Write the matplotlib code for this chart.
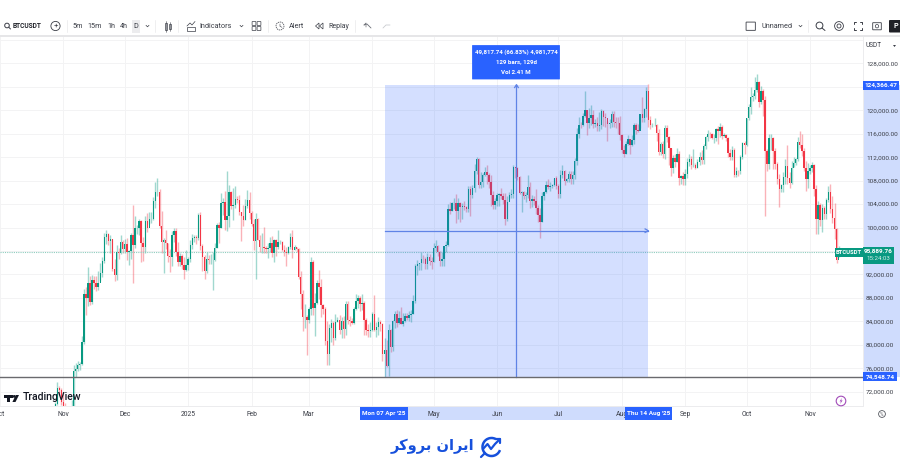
import pandas as pd
import numpy as np
import matplotlib
matplotlib.use("Agg")
import matplotlib.pyplot as plt
import matplotlib.dates as mdates
from matplotlib.patches import Rectangle, Circle, FancyBboxPatch, Arc, Polygon
from matplotlib.transforms import blended_transform_factory

plt.rcParams['font.family'] = ['Roboto', 'DejaVu Sans']

# daily candles in thousands of USDT, first bar is 28 Oct 2024
first_day = "2024-10-28"
first_open = 69.0
closes = [
    69.9, 72.7, 72.3, 70.3,
    69.5, 69.4, 68.8, 67.8, 69.4, 75.6, 75.9, 76.5, 76.7, 80.4, 88.6, 87.9, 90.5, 87.3, 91.0, 90.6, 89.8, 90.5, 92.3, 94.3, 98.4, 98.9, 97.7, 98.0, 93.0, 91.9, 95.9, 95.6, 97.5, 96.4,
    97.2, 95.9, 96.0, 98.8, 97.0, 99.9, 99.9, 101.1, 97.4, 96.6, 101.1, 100.0, 101.4, 101.4, 104.5, 106.1, 106.1, 100.2, 97.5, 97.8, 97.3, 95.2, 94.9, 98.7, 99.4, 95.8, 94.2, 95.2, 93.6, 92.8, 93.6,
    94.6, 97.0, 98.2, 98.3, 98.2, 102.1, 96.9, 95.0, 92.5, 94.7, 94.5, 94.5, 94.5, 96.5, 100.5, 99.9, 104.1, 104.4, 101.2, 102.0, 106.1, 103.6, 103.9, 104.8, 104.7, 102.6, 102.0, 101.3, 103.7, 104.7, 102.4,
    100.6, 97.7, 101.4, 97.9, 96.6, 96.6, 96.5, 96.4, 96.5, 97.4, 95.7, 97.8, 96.6, 97.5, 97.6, 96.1, 95.8, 95.6, 96.6, 98.3, 96.1, 96.6, 96.3, 91.5, 88.7, 84.7, 84.7, 84.3,
    86.1, 94.2, 86.2, 87.2, 90.6, 89.9, 86.7, 86.1, 80.7, 78.5, 82.9, 83.7, 81.1, 83.9, 84.3, 82.6, 84.0, 82.7, 86.9, 84.2, 84.1, 83.8, 86.1, 87.5, 88.0, 86.9, 87.2, 84.3, 82.6, 82.4, 82.5,
    85.2, 82.5, 83.1, 83.9, 83.5, 78.4, 79.1, 76.3, 82.6, 79.6, 84.0, 85.3, 83.7, 84.5, 83.6, 84.0, 84.9, 84.5, 85.1, 85.2, 87.5, 93.4, 93.7, 93.9, 94.7, 94.6, 93.8, 94.9, 94.3, 94.2,
    96.5, 96.9, 95.9, 94.3, 94.7, 96.8, 97.0, 103.2, 102.9, 104.1, 104.1, 102.8, 104.2, 103.5, 103.7, 103.5, 103.1, 106.5, 105.6, 106.8, 109.7, 111.7, 107.3, 107.8, 109.0, 109.4, 108.9, 107.8, 105.6, 103.9, 104.6,
    105.6, 105.8, 105.4, 104.7, 101.5, 104.3, 105.6, 105.7, 110.3, 110.2, 108.6, 105.9, 106.1, 105.4, 105.5, 106.9, 104.5, 104.9, 104.6, 103.3, 102.1, 101.0, 105.4, 106.0, 107.3, 106.9, 107.0, 107.3, 108.4, 107.1,
    105.7, 108.9, 109.6, 108.0, 108.2, 109.2, 108.3, 108.9, 111.3, 116.0, 117.5, 117.4, 119.1, 120.0, 117.8, 118.6, 119.2, 117.6, 117.9, 117.3, 117.4, 119.9, 118.8, 118.6, 117.6, 117.9, 119.4, 118.0, 117.9, 117.8, 115.7,
    113.3, 112.5, 114.2, 115.1, 114.1, 115.0, 117.5, 116.7, 116.5, 119.3, 118.7, 120.2, 123.3, 118.3, 117.4, 117.5, 117.5, 116.2, 112.9, 114.3, 112.5, 116.9, 115.4, 113.5, 110.1, 111.8, 111.2, 112.6, 108.4, 108.8, 108.2,
    109.2, 111.2, 111.7, 110.7, 110.7, 110.2, 111.1, 112.1, 111.5, 113.9, 115.5, 116.0, 115.9, 115.3, 115.3, 116.8, 116.5, 117.1, 115.6, 115.7, 115.3, 112.7, 112.0, 113.3, 109.0, 109.7, 109.6, 112.1, 114.4, 114.0,
    118.6, 120.6, 122.3, 122.4, 123.5, 124.8, 121.4, 123.3, 121.7, 113.0, 110.8, 115.2, 115.3, 113.0, 110.8, 108.2, 106.5, 107.2, 108.6, 110.5, 108.4, 107.6, 110.1, 111.0, 111.6, 114.6, 114.1, 113.0, 110.1, 108.3, 109.6,
    110.1, 110.6, 106.6, 101.5, 103.9, 101.3, 103.3, 102.3, 104.7, 106.0, 103.1, 101.7, 99.7, 94.5, 95.9,
]
highs = [
    70.3, 73.6, 72.9, 72.7,
    71.6, 70.0, 69.5, 69.5, 70.6, 76.5, 76.9, 77.2, 77.0, 81.5, 89.5, 89.9, 93.3, 91.8, 91.9, 91.8, 91.7, 92.6, 94.0, 94.9, 99.0, 99.6, 99.0, 98.8, 98.0, 94.7, 97.0, 96.5, 98.7, 97.8,
    98.0, 98.2, 96.2, 99.0, 103.9, 102.0, 100.5, 101.4, 101.2, 98.3, 101.9, 102.5, 102.7, 102.6, 105.2, 107.8, 108.4, 106.5, 102.8, 98.2, 99.5, 97.4, 96.4, 99.4, 99.9, 99.9, 97.5, 95.7, 95.4, 94.9, 96.1,
    94.9, 97.8, 98.9, 98.7, 98.8, 102.5, 102.7, 97.2, 95.3, 95.8, 95.3, 95.4, 95.9, 97.3, 100.7, 100.9, 105.9, 105.0, 106.3, 109.6, 107.2, 106.3, 106.8, 107.0, 105.3, 105.5, 102.7, 103.8, 104.8, 106.4, 106.0,
    102.8, 101.4, 102.5, 101.7, 98.8, 99.0, 100.1, 96.9, 97.3, 98.3, 98.5, 98.1, 98.1, 99.5, 97.9, 97.7, 97.0, 96.7, 96.9, 99.0, 99.5, 97.0, 96.7, 96.5, 92.5, 89.3, 87.0, 85.1,
    86.5, 95.0, 94.4, 88.9, 91.0, 92.8, 91.3, 86.9, 86.5, 84.0, 83.6, 84.4, 84.0, 85.3, 84.7, 85.0, 84.7, 84.9, 87.4, 87.4, 84.9, 84.5, 86.4, 88.7, 88.5, 88.3, 88.7, 87.5, 84.6, 83.5, 83.9,
    85.6, 88.5, 83.9, 84.7, 84.2, 83.8, 81.1, 80.9, 83.5, 82.7, 84.2, 85.8, 86.0, 85.7, 86.5, 85.4, 85.5, 85.5, 85.7, 86.0, 88.5, 93.8, 94.5, 94.0, 95.8, 95.3, 95.0, 95.6, 95.4, 95.0,
    97.4, 97.9, 97.0, 96.0, 95.9, 96.9, 97.7, 104.0, 104.4, 104.4, 105.0, 105.8, 105.0, 104.4, 104.2, 104.5, 103.7, 107.1, 107.0, 107.2, 110.8, 112.0, 111.9, 109.5, 109.3, 110.4, 110.7, 109.3, 108.9, 106.3, 105.0,
    105.9, 105.9, 106.8, 105.9, 105.9, 105.4, 106.0, 106.5, 110.6, 110.4, 110.4, 108.8, 106.2, 106.2, 106.1, 108.9, 107.8, 105.6, 105.4, 106.5, 103.9, 103.4, 106.0, 106.3, 108.0, 108.3, 107.8, 107.5, 108.5, 108.8,
    107.5, 109.8, 110.6, 109.8, 108.4, 109.7, 109.7, 109.7, 111.9, 116.9, 118.9, 118.0, 119.5, 123.2, 119.9, 120.4, 120.9, 120.0, 118.5, 118.9, 119.7, 120.2, 120.1, 119.5, 118.1, 118.5, 119.8, 119.9, 118.8, 118.8, 119.0,
    116.0, 114.0, 114.8, 115.7, 115.1, 115.7, 117.9, 117.9, 117.7, 119.3, 122.3, 120.3, 124.0, 124.4, 119.0, 117.9, 118.6, 117.6, 116.8, 114.6, 114.8, 117.4, 117.4, 115.6, 113.6, 112.3, 112.6, 113.5, 113.0, 108.9, 109.5,
    109.9, 111.8, 112.6, 112.2, 113.4, 111.0, 111.7, 112.9, 113.2, 114.3, 115.6, 116.7, 116.3, 116.1, 116.0, 117.0, 117.3, 117.9, 117.5, 116.1, 115.9, 115.4, 113.4, 113.9, 113.5, 110.3, 109.8, 112.4, 114.5, 114.8,
    118.7, 121.1, 123.9, 122.9, 125.7, 126.2, 125.0, 124.2, 123.7, 122.5, 113.4, 115.9, 115.9, 115.5, 113.6, 111.1, 109.2, 107.5, 109.5, 111.7, 114.0, 109.4, 111.3, 112.0, 111.9, 115.4, 116.4, 116.0, 113.6, 111.4, 111.0,
    110.6, 111.2, 110.8, 107.3, 104.5, 104.2, 104.0, 103.7, 105.0, 107.0, 107.5, 105.3, 104.1, 99.9, 96.8,
]
lows = [
    67.5, 69.7, 71.4, 69.7,
    68.8, 68.8, 67.5, 66.8, 67.5, 69.0, 74.5, 75.5, 75.7, 76.5, 80.2, 85.1, 86.6, 86.7, 87.0, 89.5, 89.1, 89.4, 90.9, 91.5, 94.0, 97.2, 97.1, 95.7, 92.6, 90.8, 91.0, 94.6, 95.4, 95.7,
    95.7, 94.5, 93.6, 94.7, 90.5, 96.5, 98.9, 98.7, 94.2, 94.3, 95.7, 99.3, 100.6, 100.8, 101.2, 103.3, 105.3, 100.0, 95.6, 92.2, 96.4, 94.2, 92.4, 93.4, 97.6, 95.1, 93.5, 93.5, 93.0, 91.3, 92.5,
    92.7, 94.2, 96.4, 97.5, 97.2, 97.9, 96.1, 92.5, 91.2, 92.2, 93.8, 93.7, 89.3, 94.3, 96.5, 97.3, 99.9, 102.2, 99.5, 99.4, 100.1, 103.2, 101.2, 103.3, 104.1, 102.2, 97.7, 100.3, 101.3, 103.3, 101.5,
    100.3, 96.2, 91.2, 97.8, 95.9, 95.7, 95.7, 95.7, 94.8, 95.9, 94.9, 94.1, 95.2, 96.3, 97.2, 96.0, 95.2, 93.4, 95.5, 96.4, 94.8, 96.2, 95.8, 91.2, 86.1, 82.3, 82.8, 78.3,
    83.7, 85.0, 85.0, 81.5, 86.9, 87.8, 84.7, 85.2, 80.0, 76.6, 76.6, 80.5, 79.9, 80.8, 83.9, 81.9, 81.1, 81.1, 81.6, 83.6, 83.2, 83.6, 83.6, 85.9, 86.3, 85.8, 85.9, 81.6, 81.6, 81.3, 81.3,
    82.4, 82.4, 81.3, 81.6, 82.4, 77.2, 74.5, 76.2, 74.6, 78.7, 78.9, 82.8, 83.1, 83.6, 83.6, 83.2, 83.9, 84.2, 84.0, 83.9, 85.2, 87.1, 91.9, 92.8, 92.8, 93.9, 92.9, 92.9, 93.6, 92.9,
    94.1, 96.0, 95.2, 93.5, 93.5, 93.4, 95.9, 96.9, 102.3, 102.8, 103.1, 100.7, 101.4, 101.0, 101.4, 103.0, 102.6, 102.6, 102.0, 105.0, 106.1, 109.2, 106.8, 106.8, 106.9, 108.7, 107.5, 106.7, 103.7, 103.1, 103.1,
    103.7, 103.7, 104.9, 104.0, 100.4, 101.1, 104.9, 105.0, 105.1, 108.4, 108.1, 105.7, 102.6, 104.9, 104.4, 105.0, 103.4, 103.5, 103.9, 102.3, 101.0, 98.2, 100.9, 104.7, 105.9, 106.6, 106.2, 106.7, 107.0, 106.6,
    105.1, 105.1, 108.5, 107.3, 107.8, 107.8, 107.5, 107.5, 108.3, 110.6, 115.2, 116.9, 117.3, 118.9, 115.7, 117.0, 117.4, 117.0, 117.2, 116.5, 116.4, 116.8, 117.3, 117.1, 114.7, 117.0, 117.1, 117.1, 116.9, 115.9, 115.0,
    112.7, 112.0, 112.6, 114.1, 112.6, 113.9, 114.3, 115.9, 116.3, 116.9, 118.0, 118.0, 118.9, 117.2, 116.8, 117.2, 117.3, 114.7, 112.4, 112.3, 111.9, 111.7, 114.5, 110.7, 108.7, 109.3, 110.3, 111.2, 107.3, 107.4, 107.3,
    107.3, 108.4, 110.5, 110.0, 110.3, 109.9, 110.2, 110.6, 110.8, 110.9, 113.4, 114.8, 115.2, 115.1, 114.4, 114.8, 114.3, 115.5, 115.1, 115.4, 114.8, 112.0, 111.5, 111.5, 108.6, 108.6, 108.7, 109.1, 111.6, 112.6,
    113.9, 118.4, 119.3, 121.6, 122.0, 123.1, 120.6, 121.1, 119.0, 102.0, 109.6, 110.0, 113.3, 110.0, 110.0, 107.5, 103.5, 106.0, 106.1, 107.4, 107.4, 106.7, 107.5, 110.3, 110.7, 111.3, 113.6, 112.2, 109.7, 106.3, 106.8,
    109.2, 109.5, 105.3, 98.9, 98.9, 100.3, 99.3, 101.5, 101.5, 104.3, 102.5, 100.8, 98.0, 94.0, 94.9,
]

# 96, 124 and 132 have their gridline but the tags and the selector cover the label
price_ticks = [72, 76, 80, 84, 88, 92, 96, 100, 104, 108, 112, 116, 120, 124, 128, 132]
hidden_prices = [96, 124, 132]
month_ticks = ["2024-10-01", "2024-11-01", "2024-12-01", "2025-01-01", "2025-02-01", "2025-03-01", "2025-04-01",
               "2025-05-01", "2025-06-01", "2025-07-01", "2025-08-01", "2025-09-01", "2025-10-01", "2025-11-01"]
month_labels = ["Oct", "Nov", "Dec", "2025", "Feb", "Mar", "", "May", "Jun", "Jul", "Aug", "Sep", "Oct", "Nov"]

measure_start = "2025-04-07"
measure_end = "2025-08-14"
measure_high = 124.36647
measure_low = 74.54874
last_price = 95.88976

GREEN = "#089981"
RED = "#f23645"
BLUE = "#2962ff"
TEXT = "#3a3d46"

fig = plt.figure(figsize=(9, 4.71), dpi=100)
W, H = 900.0, 471.0
ax = fig.add_axes([0, 1 - 406 / H, 863 / W, 369 / H])

dates = pd.date_range(first_day, periods=len(closes))
x = mdates.date2num(dates)
opens = np.array([first_open] + closes[:-1])
closes_arr = np.array(closes)
bar_colors = [GREEN if c >= o else RED for o, c in zip(opens, closes_arr)]
nov1 = mdates.date2num(pd.Timestamp("2024-11-01"))

ax.set_xlim(nov1 - 62 / 2.049, nov1 + (863 - 62) / 2.049)
ax.set_ylim(69.56, 132.49)
ax.set_axisbelow(True)

ax.vlines(x, lows, highs, colors=bar_colors, linewidth=1.0, alpha=0.38, zorder=1)
ax.bar(x, closes_arr - opens, bottom=opens, width=0.7, color=bar_colors, linewidth=0, zorder=1.5)

ax.set_yticks(price_ticks)
ax.set_yticklabels(["" if p in hidden_prices else f"{p},000.00" for p in price_ticks], fontsize=4.6, color=TEXT)
ax.yaxis.tick_right()
ax.set_xticks(mdates.date2num(pd.to_datetime(month_ticks)))
ax.set_xticklabels(month_labels, fontsize=4.9, color=TEXT)
ax.tick_params(axis="both", length=0)
ax.tick_params(axis="y", pad=2.2)
ax.tick_params(axis="x", pad=3.5)
ax.grid(True, color="#f3f3f4", linewidth=0.7)
for s in ["top", "left"]:
    ax.spines[s].set_visible(False)
for s in ["right", "bottom"]:
    ax.spines[s].set_color("#ececee")
    ax.spines[s].set_linewidth(0.7)

# price that is still open, dotted through the chart
ax.axhline(last_price, color="#8fcdbf", linewidth=0.8, linestyle=(0, (1, 1)), zorder=1.2)

# measure tool
x0 = mdates.date2num(pd.Timestamp(measure_start))
x1 = mdates.date2num(pd.Timestamp(measure_end))
xm = (x0 + x1) / 2
ymid = (measure_high + measure_low) / 2
ax.add_patch(Rectangle((x0, measure_low), x1 - x0, measure_high - measure_low, facecolor=BLUE, alpha=0.2, linewidth=0, zorder=3))
line_kw = dict(color="#5f83e6", linewidth=0.9, zorder=3.2)
ax.plot([xm, xm], [measure_low, measure_high], **line_kw)
ax.plot([x0, x1], [ymid, ymid], **line_kw)
ax.plot([xm - 0.9, xm, xm + 0.9], [measure_high - 0.5, measure_high, measure_high - 0.5], **line_kw)
ax.plot([x1 - 1.6, x1, x1 - 1.6], [ymid + 0.3, ymid, ymid - 0.3], **line_kw)

# dark level line
ax.axhline(measure_low, color="#6a6a6e", linewidth=1.0, zorder=4)

# bands on both scales for the measured range
time_tr = blended_transform_factory(ax.transData, ax.transAxes)
ax.add_patch(Rectangle((x0, -14 / 369), x1 - x0, 14 / 369, transform=time_tr, facecolor="#cfdcfd", linewidth=0, clip_on=False, zorder=0.2))
price_tr = blended_transform_factory(ax.transAxes, ax.transData)
ax.add_patch(Rectangle((1, measure_low), 37 / 863, measure_high - measure_low, transform=price_tr, facecolor="#cfdcfd", linewidth=0, clip_on=False, zorder=0.2))

# overlay in pixels for toolbar, tags and logos
ui = fig.add_axes([0, 0, 1, 1])
ui.set_xlim(0, W)
ui.set_ylim(H, 0)
ui.axis("off")
ui.patch.set_alpha(0)


def txt(px, py, s, size=5.2, color=TEXT, weight="normal", ha="center", **kw):
    ui.text(px, py, s, fontsize=size, color=color, fontweight=weight, ha=ha, va="center", **kw)


def rect(px, py, w, h, color, **kw):
    ui.add_patch(Rectangle((px, py), w, h, facecolor=color, linewidth=0, **kw))


def line(xs, ys, color=TEXT, lw=0.6):
    ui.plot(xs, ys, color=color, linewidth=lw, solid_capstyle="round")


# toolbar
rect(0, 35.2, W, 1.6, "#e6e6e8")
for sx in [67, 155, 178, 268, 355, 808]:
    line([sx, sx], [20, 32], "#ececee", 0.6)
ui.add_patch(Circle((7, 25.5), 2.3, fill=False, edgecolor=TEXT, linewidth=0.7))
line([8.8, 10.5], [27.3, 29], TEXT, 0.7)
txt(13, 26, "BTCUSDT", 4.8, "#23252c", "bold", ha="left")
ui.add_patch(Circle((55.5, 26), 4.6, fill=False, edgecolor=TEXT, linewidth=0.6))
txt(55.5, 25.8, "+", 5.6)
rect(132, 20, 8, 13, "#ececee")
for px, s in [(77.5, "5m"), (94.5, "15m"), (111, "1h"), (124, "4h"), (136, "D")]:
    txt(px, 26, s, 5.2)
for px in [147.5, 241.5, 800.5]:
    line([px - 1.5, px, px + 1.5], [25.3, 26.8, 25.3], TEXT, 0.5)
# candle icon
ui.add_patch(Rectangle((164.5, 23), 2.6, 7, fill=False, edgecolor=TEXT, linewidth=0.5))
ui.add_patch(Rectangle((169, 24), 2.4, 5, fill=False, edgecolor=TEXT, linewidth=0.5))
line([165.8, 165.8], [21, 32], TEXT, 0.4)
line([170.2, 170.2], [22, 31], TEXT, 0.4)
# indicators icon
line([187, 190, 192, 195], [26, 23, 25, 21.5], TEXT, 0.5)
ui.add_patch(Rectangle((187, 27), 8, 4, fill=False, edgecolor=TEXT, linewidth=0.5))
txt(199, 26, "Indicators", 5.2, ha="left")
for cx, cy in [(254, 23.5), (259, 23.5), (254, 28.5), (259, 28.5)]:
    ui.add_patch(FancyBboxPatch((cx - 1.6, cy - 1.6), 3.2, 3.2, boxstyle="round,pad=0.3", fill=False, edgecolor=TEXT, linewidth=0.5))
ui.add_patch(Circle((280, 26), 4, fill=False, edgecolor=TEXT, linewidth=0.5, linestyle=(0, (2, 1))))
line([280, 280, 282], [24, 26.3, 27.3], TEXT, 0.4)
txt(289, 26, "Alert", 5.2, ha="left")
ui.add_patch(Polygon([[319, 23], [315.5, 26], [319, 29]], fill=False, edgecolor=TEXT, linewidth=0.5))
ui.add_patch(Polygon([[323, 23], [319.5, 26], [323, 29]], fill=False, edgecolor=TEXT, linewidth=0.5))
txt(328, 26, "Replay", 5.0, ha="left")
line([364, 367, 371], [25, 24, 28], "#6a6d75", 0.6)
line([364, 366, 366], [25, 23, 27], "#6a6d75", 0.5)
line([383, 386, 390], [28, 25, 25], "#c9cbd0", 0.6)
ui.add_patch(FancyBboxPatch((746.5, 22.5), 8.5, 7.5, boxstyle="round,pad=0.4", fill=False, edgecolor="#55585f", linewidth=0.7))
txt(762, 26, "Unnamed", 5.2, ha="left")
ui.add_patch(Circle((819.5, 25.5), 3.4, fill=False, edgecolor=TEXT, linewidth=0.7))
line([822, 825], [28, 30.5], TEXT, 0.7)
ui.add_patch(Circle((839, 26), 4.4, fill=False, edgecolor=TEXT, linewidth=0.6))
ui.add_patch(Circle((839, 26), 2, fill=False, edgecolor=TEXT, linewidth=0.6))
for a, b in [(854, 22), (862, 22), (854, 30), (862, 30)]:
    hor = 2 if a < 858 else -2
    ver = 2 if b < 26 else -2
    line([a + hor, a, a], [b, b, b + ver], TEXT, 0.7)
ui.add_patch(FancyBboxPatch((873, 23), 8, 6.5, boxstyle="round,pad=0.3", fill=False, edgecolor=TEXT, linewidth=0.6))
ui.add_patch(Circle((877, 26.2), 1.7, fill=False, edgecolor=TEXT, linewidth=0.5))
ui.add_patch(FancyBboxPatch((890, 21), 20, 10.5, boxstyle="round,pad=1", facecolor="#1f2026", edgecolor="none"))
txt(894, 26.2, "P", 5.2, "white", "bold", ha="left")

# USDT selector
rect(865, 40, 35, 11, "white")
txt(866, 45.6, "USDT", 4.7, ha="left")
ui.add_patch(Polygon([[893, 45], [896, 45], [894.5, 47]], facecolor=TEXT, edgecolor="none"))

# measure label
ui.add_patch(FancyBboxPatch((472.5, 45.5), 87, 33.5, boxstyle="round,pad=0.4", facecolor=BLUE, edgecolor="none"))
txt(516, 52.3, "49,817.74 (66.83%) 4,981,774", 4.4, "white", "bold")
txt(516, 62.2, "129 bars, 129d", 4.4, "white", "bold")
txt(516, 72.2, "Vol 2.41 M", 4.4, "white", "bold")

# date boxes
rect(360, 407, 48, 12.5, BLUE)
txt(384, 414, "Mon 07 Apr '25", 4.6, "white", "bold")
rect(625, 407, 47, 12.5, BLUE)
txt(648.5, 414, "Thu 14 Aug '25", 4.6, "white", "bold")

# scale tags
rect(863, 81, 36, 8.5, BLUE)
txt(881, 85.3, "124,366.47", 4.6, "white", "bold")
rect(863, 372, 33.5, 9, BLUE)
txt(880, 376.7, "74,548.74", 4.6, "white", "bold")
rect(834.5, 247.5, 28.5, 9.5, GREEN)
txt(848.8, 252.2, "BTCUSDT", 4.2, "white", "bold")
rect(863, 247, 30.5, 16.5, GREEN)
txt(878.5, 251, "95,889.76", 4.6, "white", "bold")
txt(878.5, 259, "15:24:03", 4.4, "#d5eee8")

# lightning and settings
ui.add_patch(Circle((841, 401), 4.8, facecolor="white", edgecolor="#a24bb8", linewidth=0.8))
ui.add_patch(Polygon([[842, 397.8], [839.6, 401.4], [841, 401.4], [840, 404.2], [842.6, 400.4], [841.1, 400.4]], facecolor="#a24bb8", edgecolor="none"))
ui.add_patch(Circle((882, 414), 3.4, fill=False, edgecolor="#55585f", linewidth=0.6))
txt(882, 414, "%", 3.4, "#55585f")

# TradingView logo
rect(4, 395, 8.5, 2.8, "#131722")
rect(7.2, 395, 3.2, 7, "#131722")
ui.add_patch(Circle((14.2, 396.4), 1.4, facecolor="#131722", edgecolor="none"))
ui.add_patch(Polygon([[15.5, 402], [19, 395], [15.8, 395], [12.4, 402]], facecolor="#131722", edgecolor="none"))
txt(23, 396.5, "TradingView", 7.6, "#131722", "medium", ha="left")

# broker logo, glyphs given in drawing order as matplotlib does not shape Arabic
LOGO = "#1650dc"
ui.text(432.5, 446, "\ufeae\ufb90\ufeed\ufeae\ufe91 \ufee5\ufe8d\ufeae\ufbfe\ufe8d", fontsize=10.5, color=LOGO, fontweight="bold",
        ha="center", va="center", family=["DejaVu Sans"])
ui.add_patch(Arc((491.5, 447), 18, 18, theta1=20, theta2=300, edgecolor=LOGO, linewidth=1.8))
line([483, 487.5, 491, 495, 500], [449, 444, 449, 444, 439], LOGO, 1.6)
line([496, 500, 500], [439, 439, 443], LOGO, 1.6)
line([481, 485], [457, 453], LOGO, 1.6)

fig.savefig("out.png", dpi=100)
